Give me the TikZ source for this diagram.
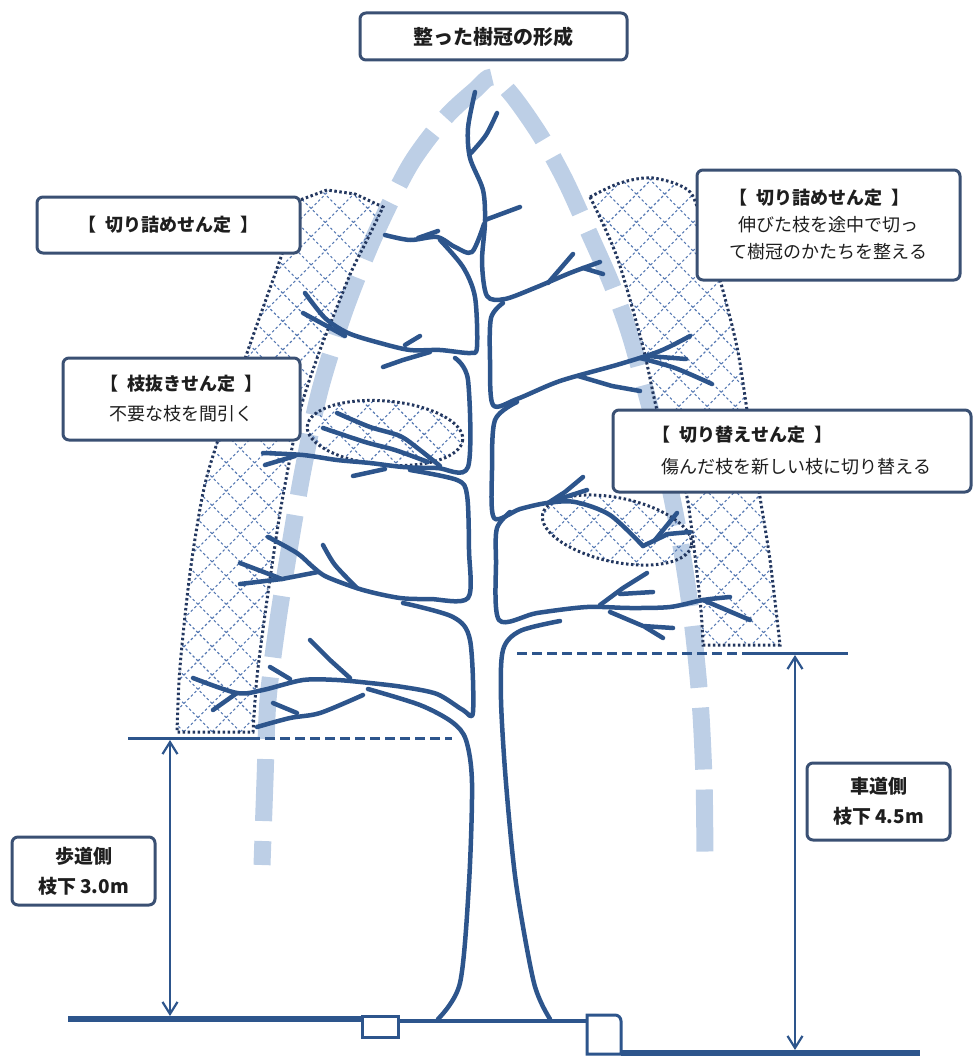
\documentclass[tikz,border=0pt]{standalone}
\usepackage{fontspec}
\usepackage{tikz}
\usetikzlibrary{arrows.meta,patterns.meta}
\newfontfamily\jp{Noto Sans CJK JP}
\definecolor{treeblue}{RGB}{45,85,140}
\definecolor{boxline}{RGB}{58,80,115}
\definecolor{arcblue}{RGB}{189,207,230}
\definecolor{hatchblue}{RGB}{85,120,178}
\definecolor{zoneline}{RGB}{35,55,95}
\definecolor{textgray}{RGB}{30,30,30}
\newcommand{\halfsp}{\hspace*{.5em}}

\begin{document}
\begin{tikzpicture}[x=1pt,y=-1pt,
		tree line/.style={treeblue,line width=4.5pt,line cap=round,line join=round},
		guide arc/.style={arcblue,line width=17pt,dash pattern=on 62pt off 20pt,dash phase=38pt},
		cut zone/.style={draw=zoneline,line width=3pt,dash pattern=on 2.5pt off 2.5pt,
			pattern={Hatch[angle=45,distance=20pt,line width=1.1pt]},pattern color=hatchblue},
		label box/.style={rectangle,draw=boxline,line width=3pt,rounded corners=6pt,fill=white,
			inner sep=0pt,align=center,text=textgray,font=\jp\fontsize{18}{30}\selectfont},
		level line/.style={treeblue,line width=3pt},
		dim arrow/.style={treeblue,line width=2.2pt,<->,>={Straight Barb[length=12pt,width=15pt]}},
		ground line/.style={treeblue,line width=6pt}]
		
		\useasboundingbox (0,0) rectangle (973,1057);
		
		% guide for the crown outline
		\draw[guide arc] plot[smooth] coordinates {(262,865) (265,780) (268,700) (278,620) (290,545) (303,470) (320,390) (345,310) (375,235) (410,165) (445,118) (475,90) (492,77) (512,95) (540,135) (565,180) (590,235) (612,285) (630,335) (648,400) (665,465) (680,540) (692,620) (700,700) (704,780) (705,862)};
		
		% pruning zones
		\draw[cut zone] plot[smooth] coordinates {(300,200) (280,260) (247,353) (217,443) (203,493) (190,573) (180,667) (177,732)}
			-- plot[smooth] coordinates {(253,732) (257,677) (267,600) (280,513) (293,443) (303,400) (320,350) (337,307) (352,270) (367,240) (383,207)}
			-- (355,194) -- (327,190) -- cycle;
		\draw[cut zone] plot[smooth] coordinates {(590,197) (620,183) (653,178) (690,192) (705,235) (720,280) (737,347) (747,410) (760,497) (770,560) (780,645)}
			-- plot[smooth] coordinates {(703,645) (700,600) (687,497) (672,450) (657,410) (643,347) (617,257) (590,197)} -- cycle;
		\draw[cut zone,rotate around={-5:(385,433)}] (385,433) ellipse (78 and 32);
		\draw[cut zone,rotate around={-12:(617,530)}] (617,530) ellipse (76 and 32);
		
		% tree, right side
		\draw[tree line] plot[smooth] coordinates {(475,92) (468,128) (470,158) (483,190) (485,222) (482,262) (487,296) (505,299) (537,287) (570,273) (600,262)};
		\draw[tree line] plot[smooth] coordinates {(497,113) (486,135) (471,153)};
		\draw[tree line] (485,220) -- (520,207);
		\draw[tree line] (548,283) -- (573,254);
		\draw[tree line] (583,268) -- (603,274);
		\draw[tree line] plot[smooth] coordinates {(503,303) (491,318) (490,360) (493,405) (517,399) (560,381) (620,364) (660,351) (690,336)};
		\draw[tree line] plot[smooth] coordinates {(640,358) (675,368) (712,384)};
		\draw[tree line] (648,356) -- (686,359);
		\draw[tree line] (578,376) -- (612,386) -- (640,391);
		\draw[tree line] plot[smooth] coordinates {(517,402) (495,420) (492,470) (494,518) (520,509) (547,503) (575,502) (610,515) (643,546)};
		\draw[tree line] (643,546) -- (668,534) -- (690,532);
		\draw[tree line] (655,540) -- (677,513);
		\draw[tree line] (548,503) -- (565,492) -- (583,477);
		\draw[tree line] (556,500) -- (587,490);
		\draw[tree line] plot[smooth] coordinates {(510,512) (497,528) (496,560) (499,620) (537,613) (587,607) (630,608) (670,607) (703,600) (730,597)};
		\draw[tree line] (600,605) -- (623,588) -- (647,573);
		\draw[tree line] (620,594) -- (653,592);
		\draw[tree line] (703,600) -- (750,620);
		\draw[tree line] (610,612) -- (643,626) -- (673,628);
		\draw[tree line] (645,627) -- (663,638);
		\draw[tree line] plot[smooth] coordinates {(560,621) (520,631) (503,650) (501,700) (506,783) (516,883) (534,983) (550,1019)};
		
		% tree, left side
		\draw[tree line] plot[smooth] coordinates {(484,224) (472,252) (455,247) (437,237) (410,240) (385,235)};
		\draw[tree line] (418,238) -- (438,231);
		\draw[tree line] plot[smooth] coordinates {(440,240) (463,267) (475,297) (477,347) (470,353) (440,350) (410,350) (380,343) (348,333) (325,318) (305,293)};
		\draw[tree line] (430,352) -- (403,360) -- (383,367);
		\draw[tree line] (405,345) -- (420,336);
		\draw[tree line] (303,313) -- (345,336);
		\draw[tree line] plot[smooth] coordinates {(455,358) (468,380) (468,467) (437,468) (403,467) (370,463) (337,460) (303,455) (263,453)};
		\draw[tree line] plot[smooth] coordinates {(440,466) (420,450) (400,436) (370,427) (337,413)};
		\draw[tree line] plot[smooth] coordinates {(428,462) (395,450) (365,442) (323,428)};
		\draw[tree line] (295,456) -- (265,465);
		\draw[tree line] (353,476) -- (385,469);
		\draw[tree line] plot[smooth] coordinates {(410,470) (457,480) (467,495) (469,550) (468,598) (430,599) (400,598) (363,590) (327,577) (313,567) (297,553) (268,537)};
		\draw[tree line] plot[smooth] coordinates {(357,588) (335,565) (323,545)};
		\draw[tree line] (318,572) -- (282,579) -- (240,584);
		\draw[tree line] (282,579) -- (240,563);
		\draw[tree line] plot[smooth] coordinates {(403,603) (453,617) (470,640) (473,712) (463,710) (437,694) (403,687) (370,683) (337,680) (303,680) (263,690) (237,693) (193,678)};
		\draw[tree line] (310,640) -- (330,660) -- (350,678);
		\draw[tree line] (270,667) -- (290,679);
		\draw[tree line] (213,710) -- (237,693);
		\draw[tree line] (273,703) -- (297,713);
		\draw[tree line] plot[smooth] coordinates {(257,727) (290,718) (320,713) (363,695)};
		\draw[tree line] plot[smooth] coordinates {(368,689) (420,705) (452,722) (466,740) (472,783) (469,883) (460,983) (438,1019)};
		
		% branch heights
		\coordinate (walk edge) at (128,738);
		\coordinate (walk mid) at (250,738);
		\coordinate (walk end) at (452,738);
		\coordinate (road start) at (517,653);
		\coordinate (road mid) at (747,653);
		\coordinate (road edge) at (848,653);
		\draw[level line] (walk edge) -- (walk mid);
		\draw[level line,dash pattern=on 10pt off 5pt] (walk mid) -- (walk end);
		\draw[level line,dash pattern=on 10pt off 5pt] (road start) -- (road mid);
		\draw[level line] (road mid) -- (road edge);
		
		% ground and curbs
		\coordinate (walk ground) at (68,1019);
		\coordinate (curb a) at (362,1019);
		\coordinate (road ground) at (920,1053);
		\draw[ground line] (walk ground) -- (curb a);
		\draw[treeblue,line width=3pt] (362,1016) rectangle (398,1037);
		\draw[treeblue,line width=4pt] (398,1021) -- (587,1021);
		\draw[treeblue,line width=3pt] (587,1054) -- (587,1015) [rounded corners=6pt]-- (621,1015) [sharp corners]-- (621,1054) -- cycle;
		\draw[ground line] (621,1053) -- (road ground);
		
		\coordinate (walk top) at (170,740);
		\coordinate (walk foot) at (170,1016);
		\coordinate (road top) at (795,655);
		\coordinate (road foot) at (795,1050);
		\draw[dim arrow] (walk top) -- (walk foot);
		\draw[dim arrow] (road top) -- (road foot);
		
		% labels
		\node[label box,minimum width=267pt,minimum height=47pt,font=\jp\bfseries\fontsize{20}{24}\selectfont] (crown) at (493.5,36.5) {整った樹冠の形成};
		\node[label box,minimum width=263pt,minimum height=56pt] (cut left) at (168.5,225) {\textbf{【\halfsp 切り詰めせん定\halfsp】}};
		\node[label box,minimum width=263pt,minimum height=110pt,align=left,font=\jp\fontsize{18}{27}\selectfont] (cut right) at (828.5,225) {\textbf{【\halfsp 切り詰めせん定\halfsp】}\\\halfsp 伸びた枝を途中で切っ\\て樹冠のかたちを整える};
		\node[label box,minimum width=237pt,minimum height=82pt] (thin) at (181.5,399) {\textbf{【\halfsp 枝抜きせん定\halfsp】}\\不要な枝を間引く};
		\node[label box,minimum width=358pt,minimum height=82pt,align=left,font=\jp\fontsize{18}{32}\selectfont] (swap) at (792,451) {\textbf{【\halfsp 切り替えせん定\halfsp】}\\\halfsp 傷んだ枝を新しい枝に切り替える};
		\node[label box,minimum width=143pt,minimum height=68pt,font=\jp\bfseries\fontsize{19}{30}\selectfont] (walk side) at (83.5,871) {歩道側\\枝下 3.0m};
		\node[label box,minimum width=143pt,minimum height=77pt,font=\jp\bfseries\fontsize{19}{30}\selectfont] (road side) at (878.5,801.5) {車道側\\枝下 4.5m};
\end{tikzpicture}
\end{document}
